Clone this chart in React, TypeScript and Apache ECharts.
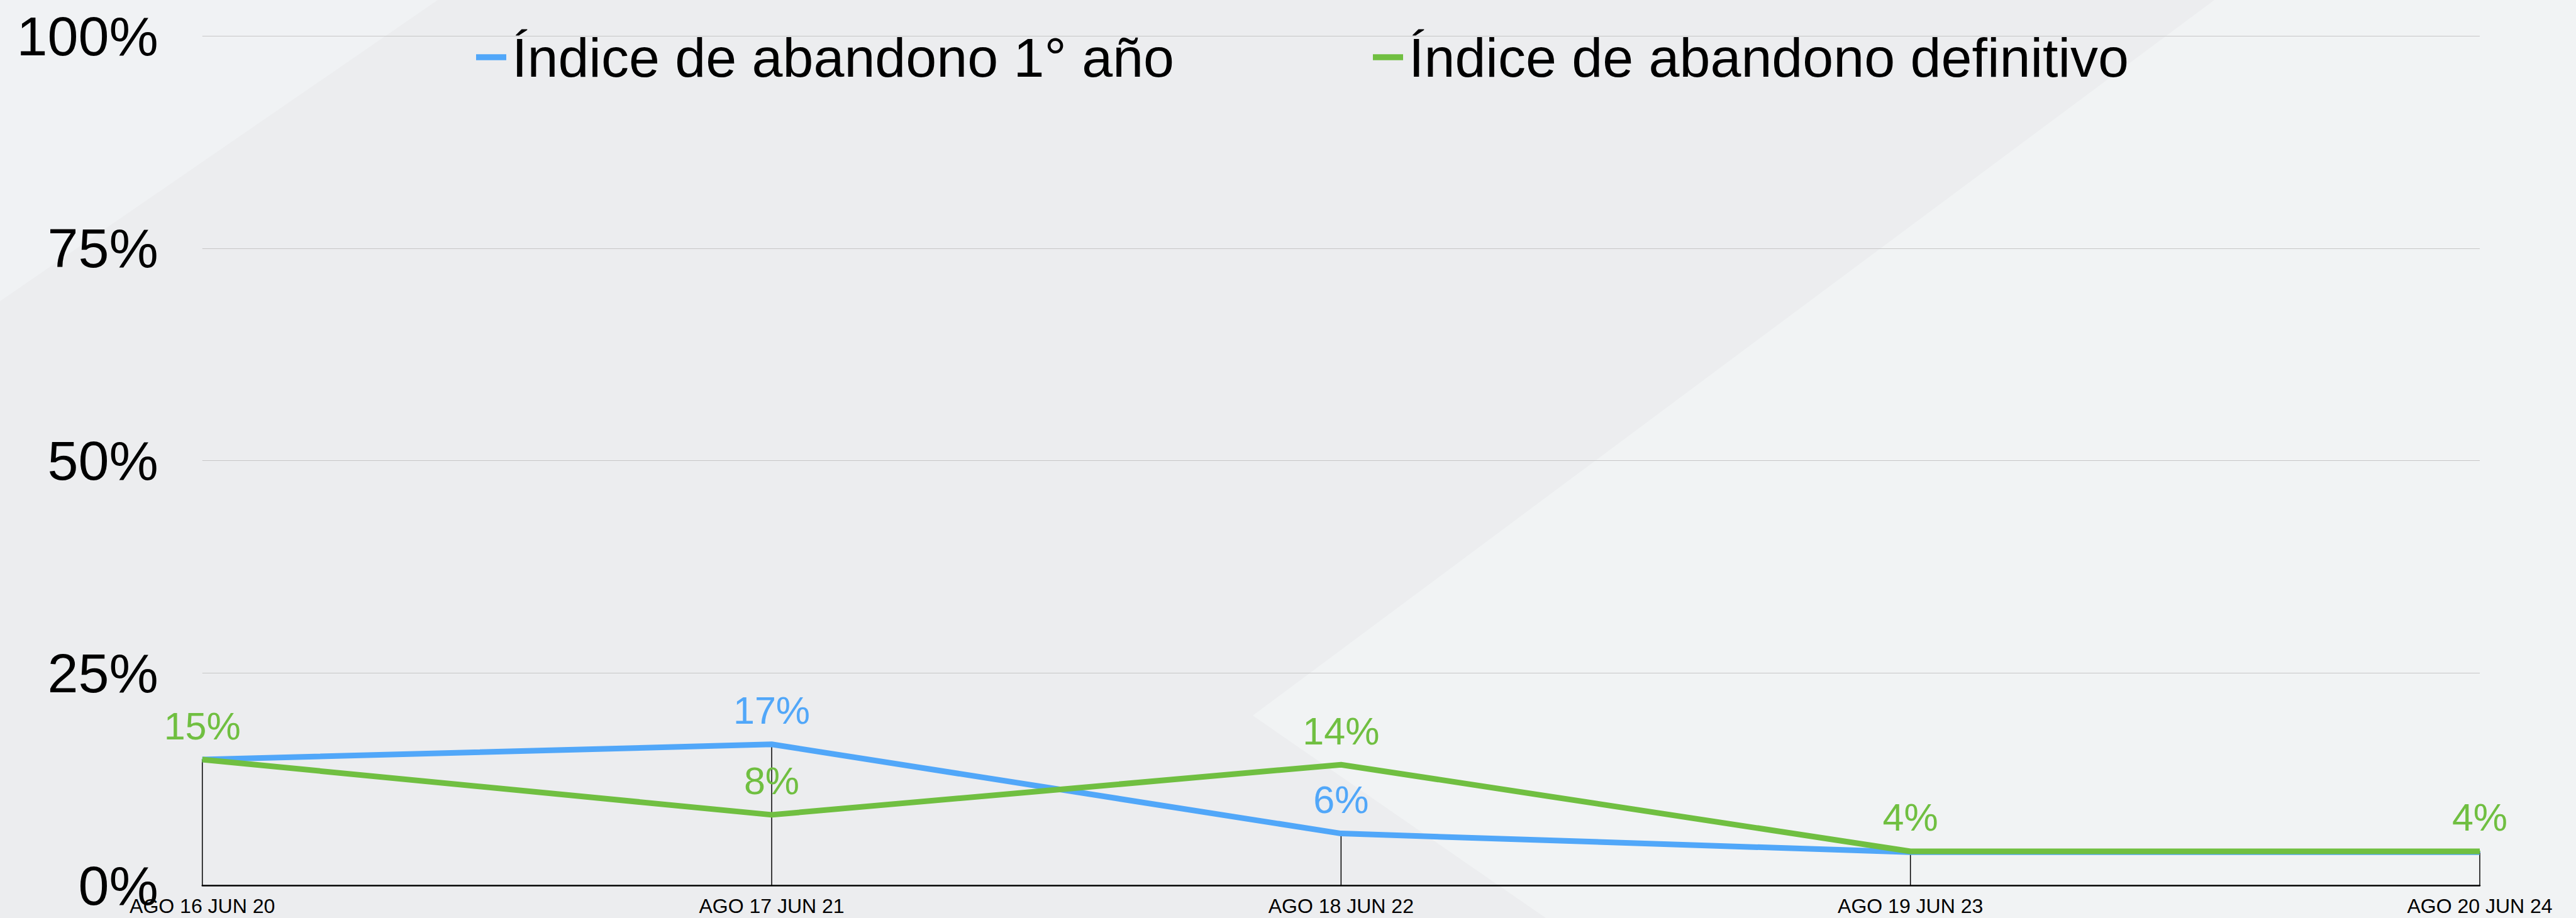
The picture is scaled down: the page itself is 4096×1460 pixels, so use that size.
import React, { useEffect, useRef } from "react";
import * as echarts from "echarts";

const categories = ["AGO 16 JUN 20", "AGO 17 JUN 21", "AGO 18 JUN 22", "AGO 19 JUN 23", "AGO 20 JUN 24"];
const seriesNames = ["Índice de abandono 1° año", "Índice de abandono definitivo"];
const firstYear = [14.8, 16.6, 6.1, 3.9, 3.9];
const definitive = [14.8, 8.3, 14.2, 4.0, 4.0];
const firstYearLabelShown = [false, true, true, false, false];
const definitiveLabelShown = [true, true, true, true, true];
const yMin = 0;
const yMax = 100;
const yInterval = 25;

const FONT = "'Liberation Sans', Arial, Helvetica, sans-serif";
const BLUE = "#51A7F9";
const GREEN = "#70BF41";

export default function App() {
  const ref = useRef<HTMLDivElement>(null);

  useEffect(() => {
    if (!ref.current) return;
    const chart = echarts.init(ref.current, null, { renderer: "svg" });
    const fmt = (p: any) => Math.round(p.value) + "%";
    const option = {
      animation: false,
      backgroundColor: "#ECEDEF",
      textStyle: { fontFamily: FONT },
      graphic: [
        {
          type: "polygon",
          z: -10,
          silent: true,
          shape: { points: [[0, 0], [696, 0], [0, 479]] },
          style: { fill: "#F0F2F4" },
        },
        {
          type: "polygon",
          z: -10,
          silent: true,
          shape: { points: [[3521, 0], [4096, 0], [4096, 1460], [2458, 1460], [1992, 1138]] },
          style: { fill: "#F1F3F4" },
        },
      ],
      legend: {
        data: seriesNames,
        left: 757,
        top: 47,
        padding: 0,
        itemGap: 316,
        itemWidth: 48,
        itemHeight: 9.5,
        icon: "rect",
        textStyle: { fontSize: 88, color: "#000", fontFamily: FONT, padding: [0, 0, 18, 4] },
      },
      grid: { left: 321.7, right: 153, top: 57.2, bottom: 52, containLabel: false },
      xAxis: {
        type: "category",
        data: categories,
        boundaryGap: false,
        axisLine: { show: true, lineStyle: { color: "#000", width: 2.5 } },
        axisTick: { show: false },
        splitLine: { show: false },
        axisLabel: { interval: 0, fontSize: 32, color: "#000", margin: 17, fontFamily: FONT },
      },
      yAxis: {
        type: "value",
        min: yMin,
        max: yMax,
        interval: yInterval,
        axisLine: { show: false },
        axisTick: { show: false },
        splitLine: { lineStyle: { color: "#C6C6C6", width: 1 } },
        axisLabel: { formatter: "{value}%", fontSize: 88, color: "#000", margin: 70, fontFamily: FONT },
      },
      series: [
        {
          name: "drop",
          type: "bar",
          data: firstYear,
          barWidth: 1.5,
          itemStyle: { color: "#000" },
          silent: true,
          z: 1,
        },
        {
          name: seriesNames[0],
          type: "line",
          data: firstYear.map((v, i) => ({ value: v, label: { show: firstYearLabelShown[i] } })),
          symbol: "circle",
          symbolSize: 2,
          itemStyle: { color: BLUE },
          lineStyle: { color: BLUE, width: 9 },
          label: { show: true, position: "top", distance: 22, formatter: fmt, fontSize: 61, color: BLUE, fontFamily: FONT },
          z: 2,
        },
        {
          name: seriesNames[1],
          type: "line",
          data: definitive.map((v, i) => ({ value: v, label: { show: definitiveLabelShown[i] } })),
          symbol: "circle",
          symbolSize: 2,
          itemStyle: { color: GREEN },
          lineStyle: { color: GREEN, width: 9 },
          label: { show: true, position: "top", distance: 22, formatter: fmt, fontSize: 61, color: GREEN, fontFamily: FONT },
          z: 3,
        },
      ],
    };
    chart.setOption(option as any);
    return () => chart.dispose();
  }, []);

  return <div ref={ref} style={{ position: "fixed", left: 0, top: 0, width: 4096, height: 1460 }} />;
}
